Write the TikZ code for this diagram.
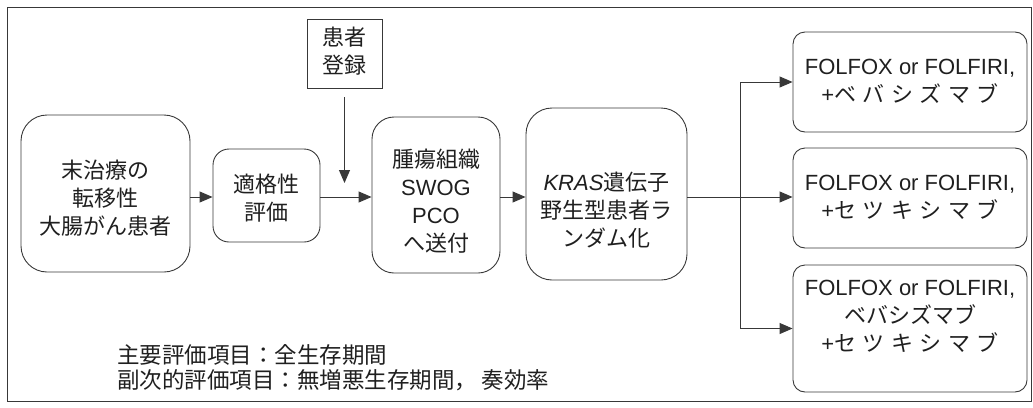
\documentclass[tikz,border=0pt]{standalone}
\usepackage{fontspec}
\setmainfont{Liberation Sans}
\newfontfamily\jp{Noto Sans CJK JP}
\usetikzlibrary{arrows.meta}
\definecolor{ink}{gray}{0.12}
\definecolor{linec}{gray}{0.22}
\newcommand\gp{\kern6.5pt }
\begin{document}
\begin{tikzpicture}[x=1pt,y=-1pt,
  box/.style={draw=linec, line width=0.9pt, inner sep=0pt, anchor=center},
  rbox/.style={box, rounded corners=#1},
  txt/.style={align=center, text=ink, inner sep=0pt, font=\fontsize{22}{28}\selectfont},
  arr/.style={draw=linec, line width=0.9pt, -{Triangle[length=13pt,width=11pt]}},
  ln/.style={draw=linec, line width=0.9pt}]
\useasboundingbox (0,0) rectangle (1033,407);
\draw[ln] (7,7) rectangle (1031,401);
% boxes
\node[rbox=26pt, minimum width=169pt, minimum height=157pt] (A) at (105.5,193.5) {};
\node[rbox=16pt, minimum width=107pt, minimum height=93pt] (B) at (266.5,195.5) {};
\node[rbox=22pt, minimum width=128pt, minimum height=156pt] (C) at (436,195) {};
\node[rbox=26pt, minimum width=161pt, minimum height=172pt] (D) at (606.5,194) {};
\node[box, minimum width=75pt, minimum height=69pt] (R) at (344.5,53.5) {};
\node[rbox=12pt, minimum width=234pt, minimum height=100pt] (E1) at (910,82) {};
\node[rbox=12pt, minimum width=234pt, minimum height=100pt] (E2) at (910,198) {};
\node[rbox=12pt, minimum width=234pt, minimum height=127pt] (E3) at (910,328.5) {};
% texts
\node[txt] (tA) at (105.5,198) {{\jp 末治療の}\\{\jp 転移性}\\{\jp 大腸がん患者}};
\node[txt] (tB) at (266.5,198.5) {{\jp 適格性}\\{\jp 評価}};
\node[txt] (tC) at (436,201.5) {{\jp 腫瘍組織}\\SWOG\\PCO\\{\jp へ送付}};
\node[txt] (tD) at (606.5,210) {{\itshape KRAS}{\jp 遺伝子}\\{\jp 野生型患者ラ}\\{\jp ンダム化}};
\node[txt] (tR) at (344.5,51.5) {{\jp 患者}\\{\jp 登録}};
\node[txt] (tE1) at (910,81.5) {FOLFOX or FOLFIRI,\\+{\jp ベ\gp バ\gp シ\gp ズ\gp マ\gp ブ}};
\node[txt] (tE2) at (910,197.5) {FOLFOX or FOLFIRI,\\+{\jp セ\gp ツ\gp キ\gp シ\gp マ\gp ブ}};
\node[txt] (tE3) at (910,316) {FOLFOX or FOLFIRI,\\{\jp ベバシズマブ}\\+{\jp セ\gp ツ\gp キ\gp シ\gp マ\gp ブ}};
\node[txt, align=left, anchor=west, font=\fontsize{22.5}{25}\selectfont] (end) at (117,367.5) {{\jp 主要評価項目：全生存期間}\\{\jp 副次的評価項目：無増悪生存期間，\hspace{0.2em}奏効率}};
% connectors
\coordinate (my) at (0,197);
\coordinate (bx) at (740,197);
\coordinate (regEnd) at (344.5,183);
\draw[arr] (A.east |- my) -- (B.west |- my);
\draw[arr] (B.east |- my) -- (C.west |- my);
\draw[arr] (C.east |- my) -- (D.west |- my);
\draw[arr] (D.east |- my) -- (E2.west |- my);
\draw[arr] ([yshift=-9pt]R.south) -- (regEnd);
\draw[ln] (E1.west -| bx) -- (E3.west -| bx);
\draw[arr] (E1.west -| bx) -- (E1.west);
\draw[arr] (E3.west -| bx) -- (E3.west);
\end{tikzpicture}
\end{document}
